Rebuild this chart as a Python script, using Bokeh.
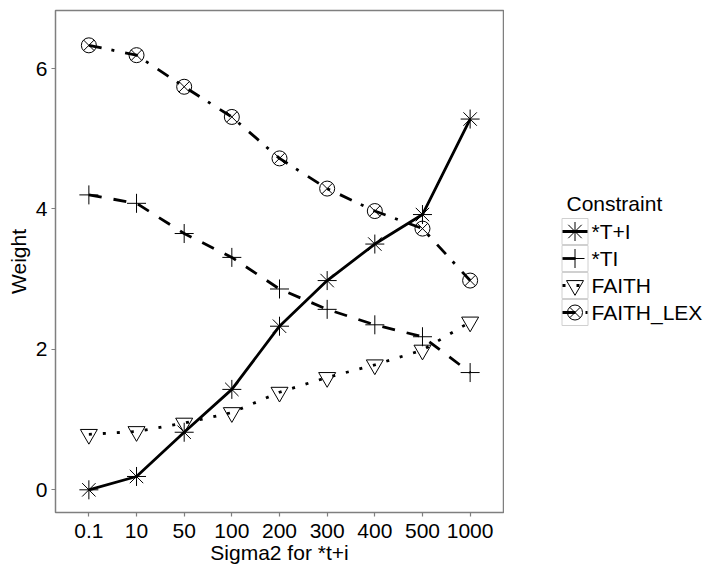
from bokeh.plotting import figure
from bokeh.layouts import row
from bokeh.models import FactorRange, Range1d, ColumnDataSource
from bokeh.core.properties import value
from bokeh.embed import file_html
from bokeh.resources import INLINE

# Sigma2 settings for *t+i (categorical x axis)
sigma2 = ["0.1", "10", "50", "100", "200", "300", "400", "500", "1000"]

# Constraint weights per setting
w_t_plus_i = [0.0, 0.19, 0.82, 1.43, 2.33, 2.98, 3.50, 3.92, 5.28]
w_ti = [4.20, 4.08, 3.65, 3.31, 2.86, 2.57, 2.35, 2.18, 1.67]
w_faith = [0.79, 0.83, 0.95, 1.10, 1.39, 1.60, 1.78, 1.99, 2.39]
w_faith_lex = [6.33, 6.19, 5.74, 5.31, 4.72, 4.29, 3.97, 3.72, 2.98]

constraints = ["*T+I", "*TI", "FAITH", "FAITH_LEX"]
weights = [w_t_plus_i, w_ti, w_faith, w_faith_lex]

# line dash / marker per constraint
dashes = ["solid", "13 12", "3 11", "13 10 3 11"]
markers = ["asterisk", "cross", "inverted_triangle", "circle_x"]
marker_sizes = [19, 19, 17, 15]

FONT = "Liberation Sans"
LINE_W = 2.8
TOP = 10

p = figure(
    width=504, height=569,
    x_range=FactorRange(factors=sigma2, range_padding=0.2, range_padding_units="absolute"),
    y_range=Range1d(-0.323, 6.826),
    min_border_left=55, min_border_right=1, min_border_top=TOP, min_border_bottom=57,
    output_backend="svg", toolbar_location=None,
)

p.background_fill_color = "white"
p.border_fill_color = "white"
p.outline_line_color = "#7f7f7f"
p.outline_line_width = 1.5
p.xgrid.grid_line_color = None
p.ygrid.grid_line_color = None

for ax in (p.xaxis[0], p.yaxis[0]):
    ax.axis_line_color = None
    ax.major_tick_line_color = "#7f7f7f"
    ax.major_tick_line_width = 1.2
    ax.major_tick_out = 4
    ax.major_tick_in = 0
    ax.minor_tick_line_color = None
    ax.major_label_text_font = FONT
    ax.major_label_text_font_size = "21px"
    ax.major_label_text_color = "black"
    ax.axis_label_text_font = FONT
    ax.axis_label_text_font_size = "21px"
    ax.axis_label_text_font_style = "normal"
    ax.axis_label_text_color = "black"

p.xaxis.axis_label = "Sigma2 for *t+i"
p.yaxis.axis_label = "Weight"
p.yaxis.ticker = [0, 2, 4, 6]
p.xaxis.major_label_standoff = 7
p.xaxis.axis_label_standoff = 0
p.yaxis.major_label_standoff = 4
p.yaxis.axis_label_standoff = 3

sources = [ColumnDataSource(dict(x=sigma2, y=w)) for w in weights]

# lines first, points on top
for src, dash in zip(sources, dashes):
    p.line("x", "y", source=src, line_color="black", line_width=LINE_W, line_dash=dash)
for src, mk, sz in zip(sources, markers, marker_sizes):
    p.scatter("x", "y", source=src, marker=mk, size=sz,
              line_color="black", line_width=1.0, fill_color=None)

# legend panel: its frame lines up with the plot frame, coordinates are page pixels
LEG_W, LEG_H = 214, 569
leg = figure(
    frame_width=LEG_W, frame_height=LEG_H - TOP,
    x_range=Range1d(0, LEG_W), y_range=Range1d(LEG_H, TOP),
    x_axis_type=None, y_axis_type=None,
    min_border_left=0, min_border_right=0, min_border_top=0, min_border_bottom=0,
    output_backend="svg", toolbar_location=None,
)
leg.outline_line_color = None
leg.grid.grid_line_color = None
leg.background_fill_color = "white"
leg.border_fill_color = "white"

key_w, key_h = 27, 27
key_left, key_top = 57, 217.5
key_cx = key_left + key_w / 2
row_y = [key_top + key_h * (i + 0.5) for i in range(len(constraints))]

leg.text(x=[key_left + 5], y=[203], text=["Constraint"],
         text_font=value(FONT), text_font_size="21px",
         text_baseline="middle", text_align="left", text_color="black")

leg.rect(x=[key_cx] * len(constraints), y=row_y, width=key_w - 1, height=key_h - 1,
         fill_color="white", line_color="#d0d0d0", line_width=1)

for i, (dash, mk, sz) in enumerate(zip(dashes, markers, marker_sizes)):
    leg.line(x=[key_left + 1, key_left + key_w - 1], y=[row_y[i], row_y[i]],
             line_color="black", line_width=LINE_W, line_dash=dash)
    leg.scatter(x=[key_cx], y=[row_y[i]], marker=mk, size=sz,
                line_color="black", line_width=1.0, fill_color=None)

leg.text(x=[key_left + key_w + 3] * len(constraints), y=row_y, text=constraints,
         text_font=value(FONT), text_font_size="21px",
         text_baseline="middle", text_align="left", text_color="black")

layout = row(p, leg)
open("out.html", "w").write(file_html(layout, INLINE))
